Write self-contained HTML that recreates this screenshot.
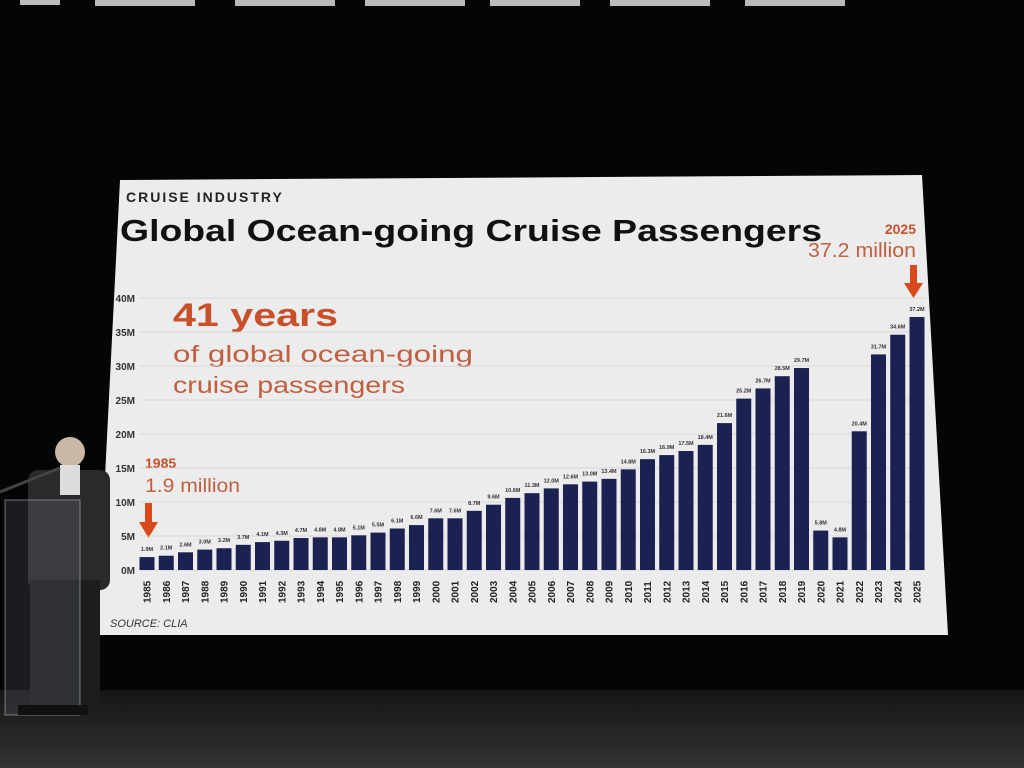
<!DOCTYPE html>
<html><head><meta charset="utf-8"><style>
html,body{margin:0;padding:0;background:#000;width:1024px;height:768px;overflow:hidden}
svg{display:block}
text{font-family:"Liberation Sans",sans-serif}
</style></head><body>
<svg id="s" width="1024" height="768" viewBox="0 0 1024 768">
<defs>
<linearGradient id="fl" x1="0" y1="0" x2="0" y2="1"><stop offset="0" stop-color="#151515"/><stop offset="1" stop-color="#333"/></linearGradient>
</defs>
<rect width="1024" height="768" fill="#050505"/>
<rect x="0" y="690" width="1024" height="78" fill="url(#fl)"/>
<g fill="#bbb"><rect x="20" y="0" width="40" height="5"/><rect x="95" y="0" width="100" height="6"/><rect x="235" y="0" width="100" height="6"/><rect x="365" y="0" width="100" height="6"/><rect x="490" y="0" width="90" height="6"/><rect x="610" y="0" width="100" height="6"/><rect x="745" y="0" width="100" height="6"/></g>
<polygon points="120,180 922,175 948,635 97,635" fill="#ececec"/>
<text x="126" y="202" font-size="14" font-weight="bold" fill="#222" letter-spacing="2">CRUISE INDUSTRY</text>
<text x="120" y="241" font-size="31" font-weight="bold" fill="#111" textLength="702" lengthAdjust="spacingAndGlyphs">Global Ocean-going Cruise Passengers</text>
<text x="916" y="234" font-size="14" font-weight="bold" fill="#c8502a" text-anchor="end">2025</text>
<text x="808" y="257" font-size="20" fill="#c06040" textLength="108" lengthAdjust="spacingAndGlyphs">37.2 million</text>
<text x="173" y="326" font-size="32" font-weight="bold" fill="#c8502a" textLength="165" lengthAdjust="spacingAndGlyphs">41 years</text>
<text x="173" y="362" font-size="23" fill="#c06040" textLength="300" lengthAdjust="spacingAndGlyphs">of global ocean-going</text>
<text x="173" y="393" font-size="23" fill="#c06040" textLength="232" lengthAdjust="spacingAndGlyphs">cruise passengers</text>
<text x="145" y="468" font-size="14" font-weight="bold" fill="#c8502a">1985</text>
<text x="145" y="492" font-size="19" fill="#c06040" textLength="95" lengthAdjust="spacingAndGlyphs">1.9 million</text>
<g fill="#d84a1c"><rect x="145" y="503" width="7" height="20"/><polygon points="139,522 158,522 148.5,538"/>
<rect x="910" y="265" width="7" height="19"/><polygon points="904,283 923,283 913.5,298"/></g>
<g id="g"></g>
<text x="110" y="627" font-size="11" font-style="italic" fill="#333">SOURCE: CLIA</text>
<!-- person -->
<rect x="28" y="470" width="82" height="120" rx="10" fill="#2a2a2c"/>
<rect x="30" y="580" width="70" height="130" fill="#1d1d1f"/>
<circle cx="70" cy="452" r="15" fill="#c9b8a6"/>
<rect x="60" y="465" width="20" height="30" fill="#ddd"/>
<line x1="0" y1="492" x2="60" y2="468" stroke="#444" stroke-width="3"/>
<rect x="5" y="500" width="75" height="215" fill="rgba(180,200,220,0.12)" stroke="rgba(200,210,220,0.5)"/>
<rect x="18" y="705" width="70" height="10" fill="#111"/>
</svg>
<script>
var v=[1.9,2.1,2.6,3.0,3.2,3.7,4.1,4.3,4.7,4.8,4.8,5.1,5.5,6.1,6.6,7.6,7.6,8.7,9.6,10.6,11.3,12.0,12.6,13.0,13.4,14.8,16.3,16.9,17.5,18.4,21.6,25.2,26.7,28.5,29.7,5.8,4.8,20.4,31.7,34.6,37.2];
var h='',b=570,k=6.8;
for(var i=0;i<=8;i++){var y=b-i*5*k;h+='<line x1="140" x2="926" y1="'+y+'" y2="'+y+'" stroke="#d0d0d0" stroke-width="0.8"/>';h+='<text x="135" y="'+(y+4)+'" font-size="10" font-weight="bold" fill="#333" text-anchor="end">'+(i*5)+'M</text>';}
for(var i=0;i<41;i++){var cx=147+i*19.25,t=b-v[i]*k;
h+='<rect x="'+(cx-7.5)+'" y="'+t+'" width="15" height="'+(v[i]*k)+'" fill="#1b2150"/>';
h+='<text x="'+cx+'" y="'+(t-6)+'" font-size="5.5" font-weight="bold" fill="#333" text-anchor="middle">'+v[i].toFixed(1)+'M</text>';
h+='<text transform="translate('+(cx+3.5)+',603) rotate(-90)" font-size="10" font-weight="bold" fill="#222">'+(1985+i)+'</text>';}
document.getElementById('g').innerHTML=h;
</script>
</body></html>
